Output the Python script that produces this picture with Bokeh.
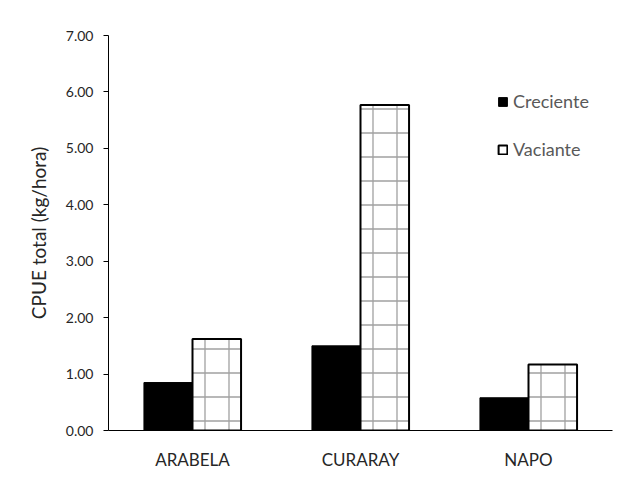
from bokeh.plotting import figure
from bokeh.models import (FactorRange, Range1d, ColumnDataSource, FixedTicker,
                          PrintfTickFormatter, Legend, LegendItem)
from bokeh.transform import dodge
from bokeh.embed import file_html
from bokeh.resources import INLINE

# ---- data ----
categories = ["ARABELA", "CURARAY", "NAPO"]
creciente = [0.85, 1.50, 0.58]
vaciante = [1.62, 5.77, 1.17]
y_ticks = [0, 1, 2, 3, 4, 5, 6, 7]
series_names = ["Creciente", "Vaciante"]
y_label = "CPUE total (kg/hora)"

source = ColumnDataSource(dict(cat=categories, cre=creciente, vac=vaciante))

p = figure(width=620, height=481, x_range=FactorRange(*categories),
           y_range=Range1d(0, 7), output_backend="svg", toolbar_location=None,
           min_border_left=108, min_border_right=8, min_border_top=35,
           min_border_bottom=51)
p.outline_line_color = None
p.xgrid.grid_line_color = None
p.ygrid.grid_line_color = None
p.background_fill_color = "white"
p.border_fill_color = "white"

bw = 0.289
r1 = p.vbar(x=dodge("cat", -bw / 2, range=p.x_range), top="cre", width=bw,
            source=source, fill_color="black", line_color="black", line_width=1)
r2 = p.vbar(x=dodge("cat", bw / 2, range=p.x_range), top="vac", width=bw,
            source=source, fill_color="white", line_color="black", line_width=2,
            hatch_pattern="cross", hatch_scale=24, hatch_color="#8f8f8f",
            hatch_weight=1.3, hatch_alpha=0.85)

# y axis
ya = p.yaxis[0]
ya.ticker = FixedTicker(ticks=y_ticks)
ya.formatter = PrintfTickFormatter(format="%.2f")
ya.minor_tick_line_color = None
ya.major_tick_in = 0
ya.major_tick_out = 5
ya.axis_line_color = "black"
ya.major_tick_line_color = "black"
ya.major_label_text_font = "Lato"
ya.major_label_text_font_size = "14px"
ya.major_label_text_color = "#262626"
ya.major_label_standoff = 10
ya.axis_label = y_label
ya.axis_label_text_font = "Lato"
ya.axis_label_text_font_size = "19px"
ya.axis_label_text_font_style = "normal"
ya.axis_label_text_color = "#262626"
ya.axis_label_standoff = 13

# x axis
xa = p.xaxis[0]
xa.major_tick_line_color = None
xa.minor_tick_line_color = None
xa.major_tick_out = 0
xa.major_tick_in = 0
xa.axis_line_color = "black"
xa.major_label_text_font = "Lato"
xa.major_label_text_font_size = "17px"
xa.major_label_text_color = "#262626"
xa.major_label_standoff = 18

legend = Legend(items=[LegendItem(label=series_names[0], renderers=[r1]),
                       LegendItem(label=series_names[1], renderers=[r2])],
                location=(389, 270), orientation="vertical",
                glyph_width=11, glyph_height=11, label_standoff=5,
                spacing=26, padding=0, margin=0,
                border_line_color=None, background_fill_alpha=0,
                label_text_font="Lato", label_text_font_size="18px",
                label_text_color="#595959")
p.add_layout(legend)

open("out.html", "w").write(file_html(p, INLINE))
